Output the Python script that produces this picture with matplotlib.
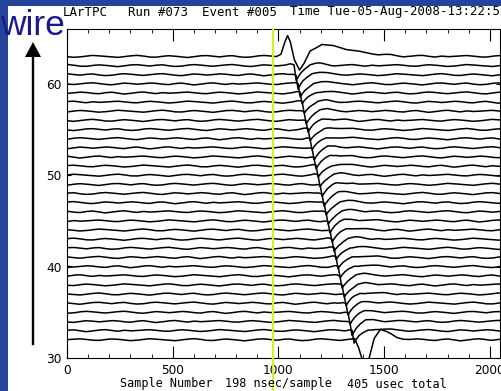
import matplotlib.pyplot as plt
from matplotlib.ticker import MultipleLocator
from matplotlib.patches import Rectangle, Polygon
from matplotlib.lines import Line2D
import numpy as np

# wires shown (bottom to top) and the sample where each pulse starts falling
wires = list(range(32, 64))
t_fall = [1365, 1348, 1338, 1329, 1319, 1310, 1301, 1291, 1282, 1272,
          1263, 1253, 1244, 1234, 1225, 1216, 1206, 1197, 1187, 1178,
          1168, 1159, 1149, 1140, 1130, 1121, 1112, 1102, 1093, 1083,
          1074, 1043]
pulse_amp = [1.0, 1.1, 1.1, 1.0, 1.0, 1.0, 1.0, 1.0, 1.0, 1.0,
             1.0, 1.0, 1.0, 1.0, 1.0, 1.0, 1.0, 1.0, 1.0, 1.0,
             1.0, 1.0, 1.0, 1.0, 1.0, 1.0, 1.0, 1.0, 1.1, 1.2,
             1.3, 1.0]

# generic bipolar pulse shape (samples after fall start, wire units)
pulse_dt = [-40, -15, 0, 10, 18, 32, 50, 75, 110, 170, 260]
pulse_v = [0.0, 0.08, 0.0, -1.3, -1.0, -0.6, -0.25, 0.1, 0.18, 0.07, 0.0]

# top wire (63) and bottom wire (32) drawn from their own shapes
t63 = [990, 1012, 1030, 1043, 1056, 1075, 1100, 1120, 1150, 1205, 1280, 1400, 1550, 1700]
v63 = [0.0, 0.3, 1.6, 2.3, 1.6, -0.4, -1.6, -0.9, 0.6, 1.4, 1.0, 0.4, 0.1, 0.0]
t32 = [1330, 1360, 1378, 1393, 1411, 1429, 1452, 1482, 1510, 1560, 1620]
v32 = [0.0, 0.05, -0.9, -2.0, -3.2, -2.0, 0.2, 1.2, 0.9, 0.2, 0.0]

# baseline wiggle, one value every 30 samples
noise = [0.00, 0.06, 0.10, 0.04, -0.05, -0.08, 0.02, 0.09, 0.05, -0.03,
         -0.10, -0.06, 0.03, 0.11, 0.07, 0.00, -0.04, -0.11, -0.02, 0.06,
         0.12, 0.05, -0.07, -0.09, 0.01, 0.08, 0.03, -0.05, -0.12, -0.04,
         0.07, 0.10, 0.02, -0.06, 0.04, 0.09, -0.03, -0.10, -0.07, 0.05,
         0.11, 0.06, -0.02, -0.08, 0.00, 0.07, 0.12, 0.03, -0.06, -0.11,
         -0.01, 0.08, 0.04, -0.05, 0.02, 0.10, 0.06, -0.04, -0.09, 0.03,
         0.09, -0.02, -0.12, -0.05, 0.06, 0.11, 0.01, -0.07, 0.04, -0.03]
noise_step = 30

title_parts = ["LArTPC", "Run #073", "Event #005", "Time Tue-05-Aug-2008-13:22:52"]
title_x = [63, 128, 202, 290]
xlabel_parts = ["Sample Number", "198 nsec/sample", "405 usec total"]
xlabel_x = [120, 225, 347]
trigger = 975

W, H = 501, 391
fig = plt.figure(figsize=(W / 100, H / 100), dpi=100)
fig.patch.set_facecolor('#24449c')
fig.add_artist(Rectangle((8 / W, 0), 1, (H - 6) / H, transform=fig.transFigure,
                         facecolor='white', edgecolor='none', zorder=0))

ax = fig.add_axes([67 / W, (H - 358) / H, (500 - 67) / W, (358 - 29) / H])

t = np.arange(0, 2049, 1.0)
noise_t = np.arange(len(noise)) * noise_step
for i, w in enumerate(wires):
    wig = np.interp(t, noise_t, np.roll(noise, i * 11))
    if w == 63:
        sig = np.interp(t, t63, v63)
    elif w == 32:
        sig = np.interp(t, t32, v32)
    else:
        sig = pulse_amp[i] * np.interp(t - t_fall[i], pulse_dt, pulse_v)
    ax.plot(t, w + wig + sig, color='black', lw=1.1)

ax.plot([trigger, trigger], [26, 66], color='#d8f020', lw=1.6, clip_on=False, zorder=5)

ax.set_xlim(0, 2048)
ax.set_ylim(30, 66)
ax.set_xticks([0, 500, 1000, 1500, 2000])
ax.xaxis.set_minor_locator(MultipleLocator(100))
ax.set_yticks([30, 40, 50, 60])
ax.tick_params(which='both', direction='in', top=True, right=True, labelsize=8.7, pad=4)
ax.tick_params(axis='x', which='major', length=8.6)
ax.tick_params(axis='x', which='minor', length=3)
ax.tick_params(axis='y', which='major', length=3)
for s in ax.spines.values():
    s.set_linewidth(0.8)

for txt, xp in zip(title_parts, title_x):
    fig.text(xp / W, 1 - 12 / H, txt, ha='left', va='center', fontsize=8.9,
             family='DejaVu Sans Mono')
for txt, xp in zip(xlabel_parts, xlabel_x):
    fig.text(xp / W, 1 - 384 / H, txt, ha='left', va='center', fontsize=8.5,
             family='DejaVu Sans Mono')

fig.text(0 / W, 1 - 35 / H, "wire", ha='left', va='baseline', fontsize=25.5,
         color='#1a1a8a', family='Liberation Sans')

# arrow on the left, in pixel coordinates
px = fig.dpi_scale_trans
fig.add_artist(Line2D([33 / 100, 33 / 100], [(H - 344) / 100, (H - 56) / 100],
                      color='black', lw=1.7, transform=px))
fig.add_artist(Polygon([[25 / 100, (H - 57) / 100], [41 / 100, (H - 57) / 100],
                        [33 / 100, (H - 42) / 100]], closed=True,
                       facecolor='black', edgecolor='none', transform=px))

fig.savefig('out.png', dpi=100)
